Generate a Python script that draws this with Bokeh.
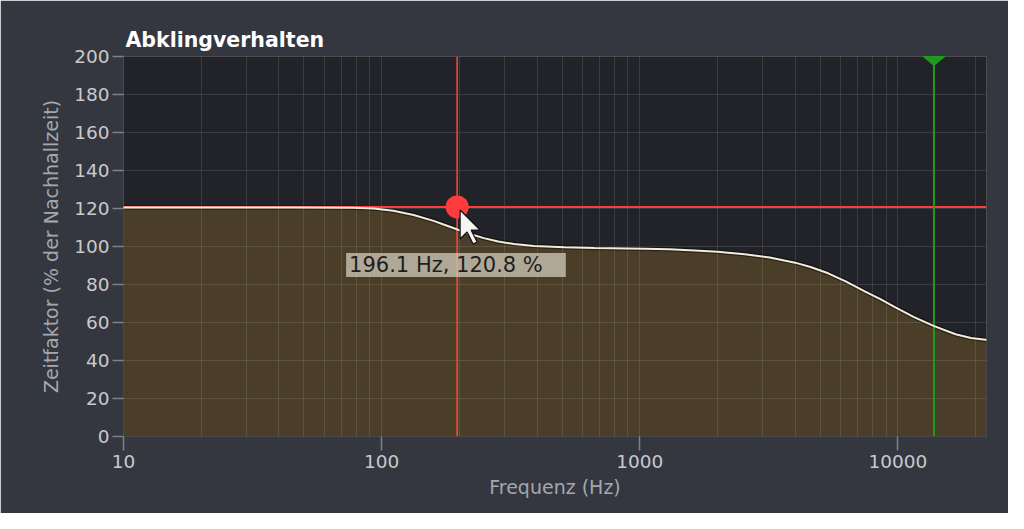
import math
from bokeh.plotting import figure
from bokeh.models import Range1d, FixedTicker, BasicTickFormatter, Span, Label, ColumnDataSource
from bokeh.embed import file_html
from bokeh.resources import INLINE

# ---- data ----
freq = [10, 45.6, 78, 93, 111, 133, 159, 177, 198, 220, 249, 283, 326, 390, 511,
        667, 1044, 1300, 1633, 2000, 2555, 3190, 3997, 4590, 5370, 6250, 7477,
        8520, 9780, 11500, 13745, 16737, 19200, 21886, 22050]
factor = [120.5, 120.5, 120.4, 120.0, 118.8, 116.6, 113.5, 111.2, 108.8, 106.6,
          104.4, 102.6, 101.3, 100.3, 99.6, 99.2, 98.8, 98.5, 97.9, 97.2, 95.9,
          94.2, 91.5, 89.2, 85.9, 81.8, 76.3, 72.4, 68.0, 63.0, 58.2, 53.8, 51.8,
          50.9, 50.8]

x_ticks = [10, 100, 1000, 10000]
y_ticks = [0, 20, 40, 60, 80, 100, 120, 140, 160, 180, 200]
x_minor = [m * d for d in (10, 100, 1000, 10000) for m in range(2, 10)]

cursor_freq = 196.1
cursor_val = 120.8
marker_freq = 13800
x_min, x_max = 10, 22050
y_min, y_max = 0, 200

TITLE = "Abklingverhalten"
X_LABEL = "Frequenz (Hz)"
Y_LABEL = "Zeitfaktor (% der Nachhallzeit)"

PANEL = "#343740"
PLOT_BG = "#222328"
FILL = "#4b3e28"

W, H = 1008, 513
BL, BR, BT, BB = 123, 22, 56, 77

p = figure(width=W, height=H, x_axis_type="log",
           x_range=Range1d(x_min, x_max), y_range=Range1d(y_min, y_max),
           output_backend="svg", toolbar_location=None,
           min_border_left=BL, min_border_right=BR,
           min_border_top=BT, min_border_bottom=BB)

# pixel scale of the frame (used only to size decorative shapes in pixels)
frame_w = W - BL - BR
frame_h = H - BT - BB
px_per_decade = frame_w / math.log10(x_max / x_min)
px_per_unit = frame_h / (y_max - y_min)

def off(f, v, dx, dy):
    """point shifted by dx px right and dy px down"""
    return f * 10 ** (dx / px_per_decade), v - dy / px_per_unit

p.background_fill_color = PLOT_BG
p.border_fill_color = PANEL
p.outline_line_color = "#4a4c52"
p.outline_line_width = 1

p.title.text = TITLE
p.title.text_font = "DejaVu Sans"
p.title.text_font_style = "bold"
p.title.text_font_size = "20.5px"
p.title.text_color = "#ffffff"
p.title.align = "left"
p.title.offset = 2
p.title.standoff = 10

# axes
p.xaxis.ticker = FixedTicker(ticks=x_ticks, minor_ticks=x_minor)
p.xaxis.formatter = BasicTickFormatter(use_scientific=False)
p.yaxis.ticker = FixedTicker(ticks=y_ticks)
for ax in (p.xaxis[0], p.yaxis[0]):
    ax.axis_line_color = None
    ax.major_tick_line_color = "#7e8188"
    ax.major_tick_line_width = 1.5
    ax.major_tick_in = 0
    ax.minor_tick_line_color = None
    ax.major_label_text_font = "DejaVu Sans"
    ax.major_label_text_font_size = "18.5px"
    ax.major_label_text_color = "#c8cacd"
    ax.axis_label_text_font = "DejaVu Sans"
    ax.axis_label_text_font_size = "19px"
    ax.axis_label_text_font_style = "normal"
    ax.axis_label_text_color = "#a4a8ae"
p.xaxis.axis_label = X_LABEL
p.yaxis.axis_label = Y_LABEL
p.xaxis.major_tick_out = 14
p.yaxis.major_tick_out = 11
p.xaxis.major_label_standoff = 4
p.yaxis.major_label_standoff = 3
p.xaxis.axis_label_standoff = 5
p.yaxis.axis_label_standoff = 9

# grid
for g in (p.xgrid[0], p.ygrid[0]):
    g.grid_line_color = "#ffffff"
    g.grid_line_alpha = 0.11
    g.level = "annotation"
p.xgrid.minor_grid_line_color = "#ffffff"
p.xgrid.minor_grid_line_alpha = 0.11

src = ColumnDataSource(dict(f=freq, v=factor))
p.varea(x="f", y1=0, y2="v", source=src, fill_color=FILL, fill_alpha=1.0)
p.line(x="f", y="v", source=src, line_color="#000000", line_alpha=0.45, line_width=4.5)
curve = p.line(x="f", y="v", source=src, line_color="#f3ecdc", line_width=2)
curve.level = "overlay"

# crosshair + marker line
p.add_layout(Span(location=cursor_freq, dimension="height", line_color="#ff4a3a", line_width=1.5))
p.add_layout(Span(location=cursor_val, dimension="width", line_color="#ff3c3c", line_width=2))
p.add_layout(Span(location=marker_freq, dimension="height", line_color="#1f9a1f", line_width=2))

# flat green handle at the top of the marker line (22 px wide, 9 px tall)
tri_pts = [off(marker_freq, y_max, dx, dy) for dx, dy in ((-11, 0), (11, 0), (0, 9))]
tri = p.patch(x=[q[0] for q in tri_pts], y=[q[1] for q in tri_pts],
              fill_color="#1f9a1f", line_color="#1f9a1f")
tri.level = "overlay"

dot = p.scatter(x=[cursor_freq], y=[cursor_val], size=23, fill_color="#ff3c3c", line_color=None)
dot.level = "overlay"

# mouse pointer next to the dragged point
arrow_shape = [(0, 0), (0, 29), (7, 22), (13, 34), (17, 32), (11, 20), (20, 20)]
tip_f, tip_v = off(cursor_freq, cursor_val, 3, 3)
arr_pts = [off(tip_f, tip_v, dx, dy) for dx, dy in arrow_shape]
arrow = p.patch(x=[q[0] for q in arr_pts], y=[q[1] for q in arr_pts],
                fill_color="#f4f4f4", line_color="#111111", line_width=1.2)
arrow.level = "overlay"

tip = Label(x=cursor_freq, y=cursor_val, x_offset=-111, y_offset=-46,
            text=f"{cursor_freq} Hz, {cursor_val} %",
            text_font="DejaVu Sans", text_font_size="21px", text_color="#1e1e1e",
            text_align="left", text_baseline="top",
            background_fill_color="#c9c3b2", background_fill_alpha=0.8,
            padding=dict(left=3, right=23, top=0, bottom=0), level="overlay")
p.add_layout(tip)

open("out.html", "w").write(file_html(p, INLINE))
